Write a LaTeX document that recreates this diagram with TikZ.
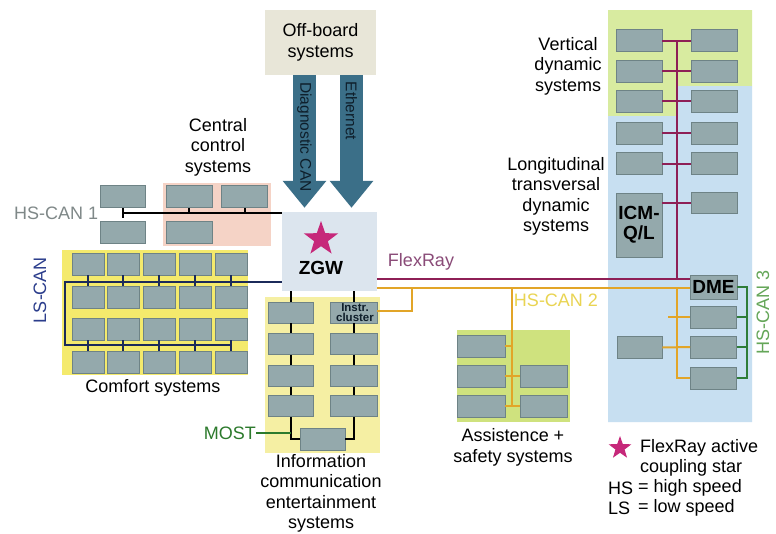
\documentclass[tikz,border=0pt]{standalone}
\usepackage{fontspec}
\setmainfont{Liberation Sans}
\usetikzlibrary{shapes.geometric,arrows.meta}
\definecolor{yellowc}{HTML}{F4EA6C}
\definecolor{infoy}{HTML}{F5EFA3}
\definecolor{pinkc}{HTML}{F5D3C6}
\definecolor{assistc}{HTML}{CFE27E}
\definecolor{vgreen}{HTML}{D8EBA0}
\definecolor{bluec}{HTML}{C7DFF1}
\definecolor{zgwc}{HTML}{DCE5EE}
\definecolor{offb}{HTML}{E8E6D8}
\definecolor{arrowc}{HTML}{3B6F88}
\definecolor{ecufill}{HTML}{94A9AC}
\definecolor{ecuedge}{HTML}{6E8386}
\definecolor{flexc}{HTML}{8E1F56}
\definecolor{flexlbl}{HTML}{8A4B78}
\definecolor{hstwo}{HTML}{E2A528}
\definecolor{hstwolbl}{HTML}{E9D452}
\definecolor{lsc}{HTML}{1B2A5A}
\definecolor{lslbl}{HTML}{2B3D8C}
\definecolor{mostc}{HTML}{2C7A2C}
\definecolor{hsthree}{HTML}{2E7D38}
\definecolor{hsthreelbl}{HTML}{64A658}
\definecolor{hsonelbl}{HTML}{7F8888}
\definecolor{starc}{HTML}{C6287A}
\definecolor{arrtext}{HTML}{0E1E2A}
\begin{document}
\begin{tikzpicture}[x=1pt,y=-1pt,
  ecu/.style={draw=ecuedge,fill=ecufill,line width=0.8pt,inner sep=0pt,minimum width=46pt,minimum height=22pt},
  lbl/.style={font=\fontsize{18}{20.5}\selectfont,align=center,inner sep=0pt},
  bigarrow/.style={draw=arrowc,line width=23pt,-{Triangle[width=42pt,length=27pt]},shorten >=4pt},
  arrlbl/.style={font=\fontsize{15.5}{17}\selectfont,text=arrtext,rotate=-90,inner sep=0pt},
  flexbus/.style={draw=flexc,line width=2pt},
  hsbus/.style={draw=hstwo,line width=2pt},
  lsbus/.style={draw=lsc,line width=2pt},
  blkbus/.style={draw=black,line width=2pt},
  greenbus/.style={draw=hsthree,line width=2pt},
  mostbus/.style={draw=mostc,line width=2pt}]
\useasboundingbox (0,0) rectangle (776,533);
\fill[white] (0,0) rectangle (776,533);
% regions
\fill[yellowc] (62,250) rectangle (248,375);
\fill[pinkc] (163,183) rectangle (271,246);
\fill[infoy] (265,297) rectangle (380,453);
\fill[assistc] (457,330) rectangle (570,422);
\fill[vgreen] (608,10) -- (752,10) -- (752,86) -- (678,86) -- (678,116) -- (608,116) -- cycle;
\fill[bluec] (608,116) -- (678,116) -- (678,86) -- (752,86) -- (752,422) -- (608,422) -- cycle;
% main nodes
\node[fill=offb,minimum width=111pt,minimum height=65pt,inner sep=0pt,lbl] (ob) at (320.5,42.5) {Off-board\\systems};
\node[fill=zgwc,minimum width=95pt,minimum height=79pt,inner sep=0pt] (zgw) at (329.5,251.5) {};
\node[star,star points=5,star point ratio=2.5,fill=starc,minimum size=36pt,inner sep=0pt] (zstar) at (321,239) {};
\node[font=\fontsize{19}{20}\selectfont\bfseries,inner sep=0pt] (zgwt) at (321,268) {ZGW};
% arrows
\coordinate (dcx) at (304.5,0);
\coordinate (etx) at (351.5,0);
\draw[bigarrow] (ob.south -| dcx) -- (zgw.north -| dcx);
\draw[bigarrow] (ob.south -| etx) -- (zgw.north -| etx);
\node[arrlbl] (dctxt) at (304.5,137) {Diagnostic CAN};
\node[arrlbl] (ettxt) at (351.5,111) {Ethernet};
% key coordinates
\coordinate (hsoney) at (0,213);
\coordinate (lstop) at (0,282);
\coordinate (lsbot) at (0,345);
\coordinate (lsx) at (65,0);
\coordinate (flexy) at (0,279);
\coordinate (hstwoy) at (0,288);
\coordinate (brax) at (412,0);
\coordinate (bray) at (0,311);
\coordinate (brbx) at (512,0);
\coordinate (rbusx) at (677,0);
\coordinate (rbustop) at (677,40);
\coordinate (gx) at (747,0);
\coordinate (tickx) at (668,0);
% ---- HS-CAN 1 area ----
\node[ecu,minimum width=45pt] (h1) at (122.5,196.5) {};
\node[ecu,minimum width=45pt] (h2) at (122.5,232.5) {};
\node[ecu] (h3) at (189,196.5) {};
\node[ecu] (h4) at (244.5,196.5) {};
\node[ecu] (h5) at (189,232.5) {};
\draw[blkbus] (h1.south |- hsoney) -- (zgw.west |- hsoney);
\draw[blkbus] ([yshift=5pt]h1.south |- hsoney) -- ([yshift=-5pt]h1.south |- hsoney);
\draw[blkbus] (h3.south) -- (h3.south |- hsoney);
\draw[blkbus] (h4.south) -- (h4.south |- hsoney);
% comfort grid
\foreach \c/\x in {1/88,2/123,3/159,4/195,5/231}{
  \foreach \r/\y in {1/264,2/297,3/329,4/362}{
    \node[ecu,minimum width=32pt] (k\c\r) at (\x,\y) {};
  }
}
\draw[lsbus] (zgw.west |- lstop) -- (lsx |- lstop) -- (lsx |- lsbot) -- (k53.south |- lsbot);
\foreach \c in {1,...,5}{
  \draw[lsbus] (k\c1.south) -- (k\c2.north);
  \draw[lsbus] (k\c3.south) -- (k\c4.north);
}
% info area
\foreach \r/\y in {1/312.5,2/344,3/376,4/406}{
  \node[ecu,minimum width=45pt,minimum height=21pt] (il\r) at (290.5,\y) {};
  \node[ecu,minimum width=47pt,minimum height=21pt] (ir\r) at (353.5,\y) {};
}
\node[ecu,minimum width=45pt] (ib) at (322.5,439) {};
\draw[blkbus] (zgw.south -| il1.center) -- (il1.north);
\draw[blkbus] (il1.south) -- (il2.north);
\draw[blkbus] (il2.south) -- (il3.north);
\draw[blkbus] (il3.south) -- (il4.north);
\draw[blkbus] (il4.south) -- (il4.center |- ib.west) -- (ib.west);
\draw[blkbus] (zgw.south -| ir1.center) -- (ir1.north);
\draw[blkbus] (ir1.south) -- (ir2.north);
\draw[blkbus] (ir2.south) -- (ir3.north);
\draw[blkbus] (ir3.south) -- (ir4.north);
\draw[blkbus] (ir4.south) -- (ir4.center |- ib.east) -- (ib.east);
\node[font=\fontsize{11.5}{10.5}\selectfont\bfseries,text=arrtext,align=center,inner sep=0pt] (instr) at (355,312.5) {Instr.\\cluster};
\node[lbl,anchor=east,text=mostc] (mostlbl) at (256,433) {MOST};
\draw[mostbus] (mostlbl.east) -- (mostlbl.east -| il4.center);
% assistance area
\node[ecu,minimum width=48pt] (a1) at (481,346) {};
\node[ecu,minimum width=48pt] (a2) at (481,376) {};
\node[ecu,minimum width=48pt] (a3) at (481,406) {};
\node[ecu,minimum width=47pt] (a4) at (543.5,376) {};
\node[ecu,minimum width=47pt] (a5) at (543.5,406) {};
% right area boxes
\foreach \r/\y in {1/40.5,2/71,3/101,4/133,5/163.5}{
  \node[ecu] (L\r) at (639,\y) {};
  \node[ecu] (R\r) at (714.5,\y) {};
}
\node[ecu,minimum height=64pt,font=\fontsize{19}{20}\selectfont\bfseries,align=center] (icm) at (639,225) {ICM-\\Q/L};
\node[ecu,minimum height=21pt] (R6) at (714.5,203) {};
\node[ecu,minimum width=47pt,minimum height=24pt,font=\fontsize{19}{20}\selectfont\bfseries] (dme) at (713.5,287) {DME};
\node[ecu] (B1) at (713.5,317) {};
\node[ecu] (B2) at (713.5,347) {};
\node[ecu] (B3) at (713.5,378) {};
\node[ecu,minimum width=45pt] (lb) at (639.5,347.5) {};
% FlexRay
\draw[flexbus] (zgw.east |- flexy) -- (dme.west |- flexy);
\draw[flexbus] (rbustop) -- (rbusx |- flexy);
\foreach \r in {1,...,5}{\draw[flexbus] (L\r.east) -- (R\r.west);}
\draw[flexbus] (icm.east |- R6.west) -- (R6.west);
% HS-CAN 2
\draw[hsbus] (zgw.east |- hstwoy) -- (dme.west |- hstwoy);
\draw[hsbus] (brax |- hstwoy) -- (brax |- bray) -- (ir1.east |- bray);
\draw[hsbus] (brbx |- hstwoy) -- (brbx |- a3.east);
\draw[hsbus] (a1.east) -- (brbx |- a1.east);
\draw[hsbus] (a2.east) -- (a4.west);
\draw[hsbus] (a3.east) -- (a5.west);
\draw[hsbus] (rbusx |- hstwoy) -- (rbusx |- B3.west) -- (B3.west);
\draw[hsbus] (tickx |- B1.west) -- (B1.west);
\draw[hsbus] (lb.east) -- (B2.west);
% HS-CAN 3
\draw[greenbus] (dme.east) -- (gx |- dme.east) -- (gx |- B3.east) -- (B3.east);
\draw[greenbus] (gx |- B1.east) -- (B1.east);
\draw[greenbus] (gx |- B2.east) -- (B2.east);
% labels
\node[lbl] (central) at (218,147) {Central\\control\\systems};
\node[lbl,anchor=west,text=hsonelbl] (hsone) at (14,213) {HS-CAN 1};
\node[lbl,rotate=90,text=lslbl] (lscan) at (40,290) {LS-CAN};
\node[lbl] (comfort) at (153,388) {Comfort systems};
\node[lbl] (info) at (321,493.5) {Information\\communication\\entertainment\\systems};
\node[lbl,text=flexlbl] (flexlab) at (421,262) {FlexRay};
\node[lbl,text=hstwolbl] (hstwolab) at (556,300) {HS-CAN 2};
\node[lbl] (assist) at (513,447.5) {Assistence +\\safety systems};
\node[lbl] (vert) at (568,66) {Vertical\\dynamic\\systems};
\node[lbl] (longi) at (556,196.5) {Longitudinal\\transversal\\dynamic\\systems};
\node[lbl,rotate=90,text=hsthreelbl] (hsthreelab) at (763,312) {HS-CAN 3};
% legend
\node[star,star points=5,star point ratio=2.5,fill=starc,minimum size=24pt,inner sep=0pt] (lstar) at (620,448) {};
\node[lbl,anchor=west] (leg1) at (640,448) {FlexRay active};
\node[lbl,anchor=west] (leg2) at (640,468) {coupling star};
\node[lbl,anchor=west] (leg3) at (608,488) {HS};
\node[lbl,anchor=west] (leg3b) at (638,488) {= high speed};
\node[lbl,anchor=west] (leg4) at (608,508) {LS};
\node[lbl,anchor=west] (leg4b) at (638,508) {= low speed};
\end{tikzpicture}
\end{document}
